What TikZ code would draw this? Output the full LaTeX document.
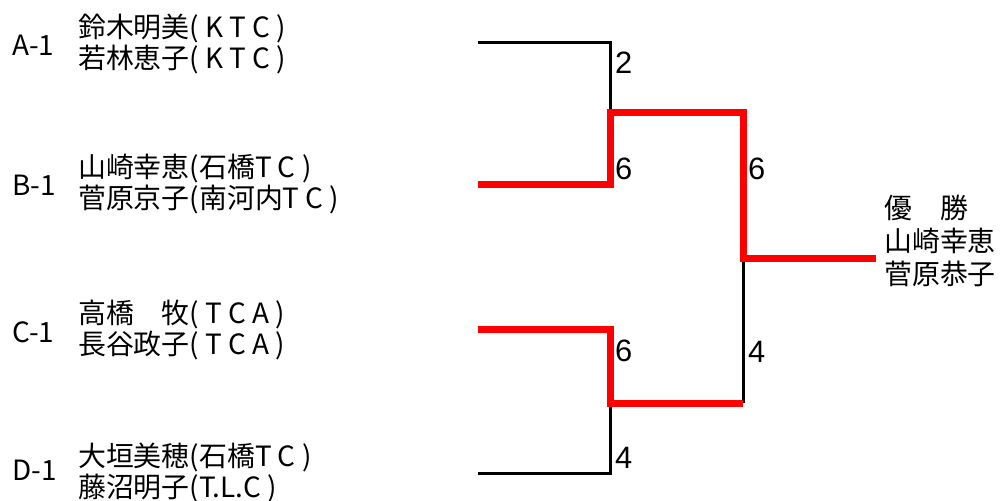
\documentclass[tikz,border=0pt]{standalone}
\usepackage{fontspec}
\setmainfont{Noto Sans CJK JP}
\newfontfamily\digitfont{Liberation Sans}
\usepackage{tikz}

\begin{document}
\begin{tikzpicture} [x=1bp, y=-1bp, line join=miter,
                    entry/.style={anchor=west, inner sep=0pt, align=left,
                      font=\fontsize{28}{32}\selectfont},
                    seed/.style={anchor=west, inner sep=0pt,
                      font=\fontsize{28}{32}\selectfont},
                    score/.style={anchor=west, inner sep=0pt,
                      font=\digitfont\fontsize{31}{32}\selectfont},
                    lose/.style={draw=black, line width=3bp},
                    win/.style={draw=red, line width=7bp}]

\useasboundingbox (0,0) rectangle (1002,501);

% seeds and players
\node[seed] (sA) at (12,45) {A-1};
\node[entry] (pA) at (78,44) {鈴木明美( K T C )\\若林恵子( K T C )};
\node[seed] (sB) at (12,185) {B-1};
\node[entry] (pB) at (78,184) {山崎幸恵(石橋T C )\\菅原京子(南河内T C )};
\node[seed] (sC) at (12,332) {C-1};
\node[entry] (pC) at (78,330) {高橋　牧( T C A )\\長谷政子( T C A )};
\node[seed] (sD) at (12,470) {D-1};
\node[entry] (pD) at (78,473) {大垣美穂(石橋T C )\\藤沼明子(T.L.C )};

% bracket points
\coordinate (A) at (478,43);
\coordinate (B) at (478,185);
\coordinate (C) at (478,330);
\coordinate (D) at (478,473);
\coordinate (AB) at (610,113);
\coordinate (CD) at (610,403);
\coordinate (F) at (743,259);
\coordinate (W) at (876,259);

\path[lose] (A) -| (AB);
\path[lose] (D) -| (CD);
\path[lose] (CD -| F) -- (F);

\path[win] (B) -| (AB) -| (F) -- (W);
\path[win] (C) -| (CD) -- (CD -| F);

% scores
\node[score] (nA) at (615,63) {2};
\node[score] (nB) at (615,169) {6};
\node[score] (nC) at (615,351) {6};
\node[score] (nD) at (615,458) {4};
\node[score] (nAB) at (748,169) {6};
\node[score] (nCD) at (748,352) {4};

% winner
\node[entry, font=\fontsize{28}{33}\selectfont] (champ) at (884,241)
  {優　勝\\山崎幸恵\\菅原恭子};
\end{tikzpicture}
\end{document}
